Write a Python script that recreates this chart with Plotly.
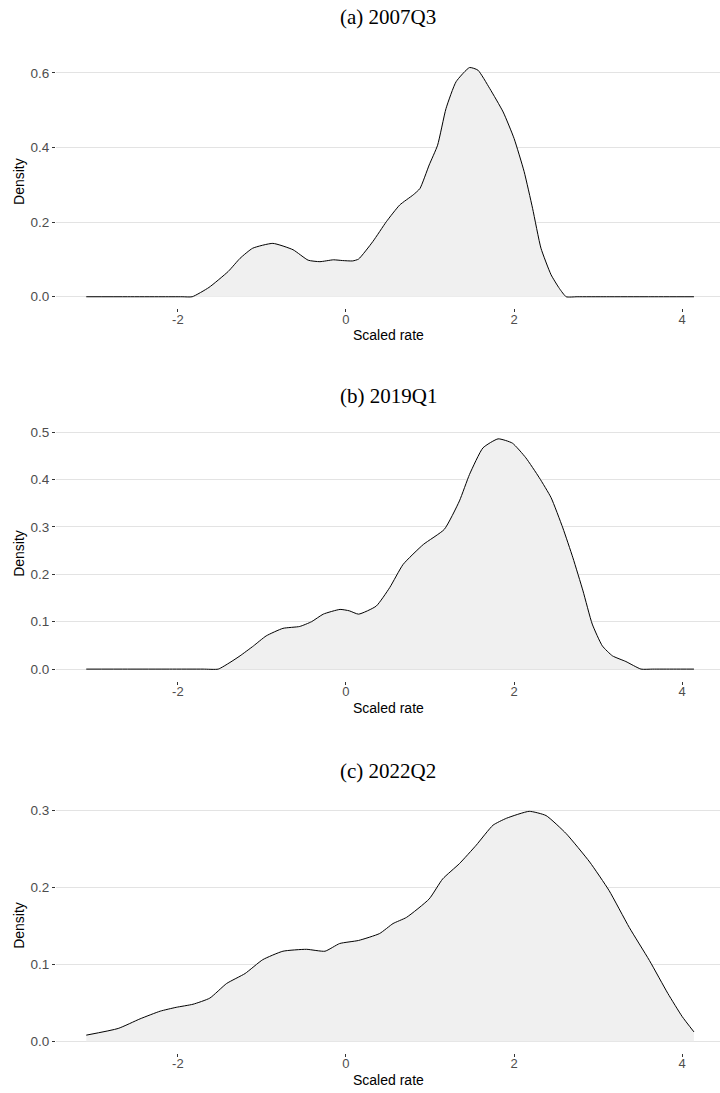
import plotly.graph_objects as go

# Density estimates of the scaled rate for three quarters
x_2007q3 = [-3.09, -2.6, -2.2, -1.95, -1.83, -1.63, -1.40, -1.26, -1.11, -0.87, -0.63, -0.45, -0.31,
            -0.15, -0.04, 0.08, 0.15, 0.32, 0.48, 0.64, 0.80, 0.88, 0.99, 1.09, 1.19, 1.31, 1.47,
            1.57, 1.71, 1.87, 2.00, 2.12, 2.22, 2.32, 2.44, 2.54, 2.62, 2.75, 3.1, 3.6, 4.14]
y_2007q3 = [0.0, 0.0, 0.0, 0.0, 0.0, 0.025, 0.068, 0.103, 0.130, 0.143, 0.126, 0.098, 0.094,
            0.099, 0.097, 0.096, 0.101, 0.148, 0.201, 0.246, 0.273, 0.290, 0.353, 0.406, 0.504,
            0.576, 0.614, 0.607, 0.558, 0.495, 0.424, 0.335, 0.237, 0.130, 0.059, 0.022, 0.0,
            0.0, 0.0, 0.0, 0.0]

x_2019q1 = [-3.09, -2.6, -2.1, -1.7, -1.52, -1.38, -1.26, -1.10, -0.95, -0.75, -0.55, -0.41, -0.27,
            -0.07, 0.04, 0.15, 0.36, 0.52, 0.68, 0.92, 1.17, 1.35, 1.47, 1.63, 1.81, 1.98, 2.14,
            2.30, 2.44, 2.58, 2.70, 2.82, 2.93, 3.05, 3.17, 3.33, 3.51, 3.65, 3.9, 4.14]
y_2019q1 = [0.0, 0.0, 0.0, 0.0, 0.0, 0.014, 0.028, 0.049, 0.070, 0.086, 0.090, 0.100, 0.116,
            0.126, 0.123, 0.116, 0.133, 0.172, 0.221, 0.263, 0.295, 0.355, 0.411, 0.467, 0.486,
            0.477, 0.446, 0.404, 0.362, 0.298, 0.235, 0.165, 0.095, 0.049, 0.028, 0.016, 0.0,
            0.0, 0.0, 0.0]

x_2022q2 = [-3.09, -2.71, -2.45, -2.21, -2.02, -1.82, -1.62, -1.42, -1.20, -0.99, -0.75, -0.47,
            -0.25, -0.075, 0.15, 0.40, 0.56, 0.72, 0.99, 1.15, 1.35, 1.55, 1.75, 1.91, 2.18,
            2.38, 2.62, 2.90, 3.13, 3.37, 3.61, 3.83, 4.00, 4.14]
y_2022q2 = [0.0078, 0.0165, 0.029, 0.039, 0.044, 0.048, 0.056, 0.075, 0.088, 0.106, 0.117,
            0.1195, 0.117, 0.127, 0.131, 0.140, 0.153, 0.161, 0.185, 0.211, 0.231, 0.255, 0.281,
            0.290, 0.299, 0.2935, 0.270, 0.233, 0.196, 0.148, 0.105, 0.062, 0.032, 0.012]

panel_titles = ["(a) 2007Q3", "(b) 2019Q1", "(c) 2022Q2"]
x_ticks = [-2, 0, 2, 4]
x_tick_text = ["-2", "0", "2", "4"]
y_ticks = [[0.0, 0.2, 0.4, 0.6], [0.0, 0.1, 0.2, 0.3, 0.4, 0.5], [0.0, 0.1, 0.2, 0.3]]
y_tick_text = [["0.0", "0.2", "0.4", "0.6"],
               ["0.0", "0.1", "0.2", "0.3", "0.4", "0.5"],
               ["0.0", "0.1", "0.2", "0.3"]]

series = [(x_2007q3, y_2007q3), (x_2019q1, y_2019q1), (x_2022q2, y_2022q2)]

W, H = 720, 1093
# pixel extents (top, bottom) of each panel's plotting area
panel_px = [(53.7, 306.9), (425.8, 679.9), (798.5, 1052.6)]
y_ranges = [[-0.031, 0.646], [-0.0244, 0.511], [-0.015, 0.315]]
title_px = [15, 395, 770]

fig = go.Figure()
sans = "Liberation Sans, Arial, sans-serif"

for i, (xs, ys) in enumerate(series):
    n = "" if i == 0 else str(i + 1)
    fig.add_trace(go.Scatter(
        x=xs, y=ys, mode="lines", fill="tozeroy",
        fillcolor="#F0F0F0",
        line=dict(color="black", width=1, shape="spline", smoothing=0.5),
        xaxis="x" + n, yaxis="y" + n, showlegend=False, hoverinfo="skip",
    ))
    top, bot = panel_px[i]
    dom = [1 - bot / H, 1 - top / H]
    fig.layout["xaxis" + n] = dict(
        domain=[0, 1], range=[-3.45, 4.45], anchor="y" + n,
        tickvals=x_ticks, ticktext=x_tick_text, showgrid=False, zeroline=False,
        ticks="outside", ticklen=3, tickcolor="#333333", tickwidth=1,
        ticklabelstandoff=-4,
        tickfont=dict(family=sans, size=13, color="#4D4D4D"), showline=False,
    )
    fig.layout["yaxis" + n] = dict(
        domain=dom, range=y_ranges[i], anchor="x" + n,
        tickvals=y_ticks[i], ticktext=y_tick_text[i],
        showgrid=True, gridcolor="#E3E3E3", gridwidth=1, zeroline=False,
        ticks="outside", ticklen=3, tickcolor="#333333", tickwidth=1,
        tickfont=dict(family=sans, size=13.5, color="#4D4D4D"), showline=False,
    )
    fig.add_annotation(
        text=panel_titles[i], xref="paper", yref="paper",
        x=0.5, y=1 - title_px[i] / H, xanchor="center", yanchor="middle",
        showarrow=False, font=dict(family="Liberation Serif, serif", size=21, color="black"),
    )
    fig.add_annotation(
        text="Scaled rate", xref="paper", yref="paper",
        x=0.5, y=1 - (bot + 27) / H, xanchor="center", yanchor="middle",
        showarrow=False, font=dict(family=sans, size=14, color="black"),
    )
    fig.add_annotation(
        text="Density", xref="paper", yref="paper",
        x=-(56 - 19) / (W - 56), y=1 - (top + bot) / 2 / H, xanchor="center", yanchor="middle",
        textangle=-90, showarrow=False, font=dict(family=sans, size=14, color="black"),
    )

fig.update_layout(
    width=W, height=H,
    margin=dict(l=56, r=0, t=0, b=0),
    paper_bgcolor="white", plot_bgcolor="white",
)

fig.write_html("out.html")
